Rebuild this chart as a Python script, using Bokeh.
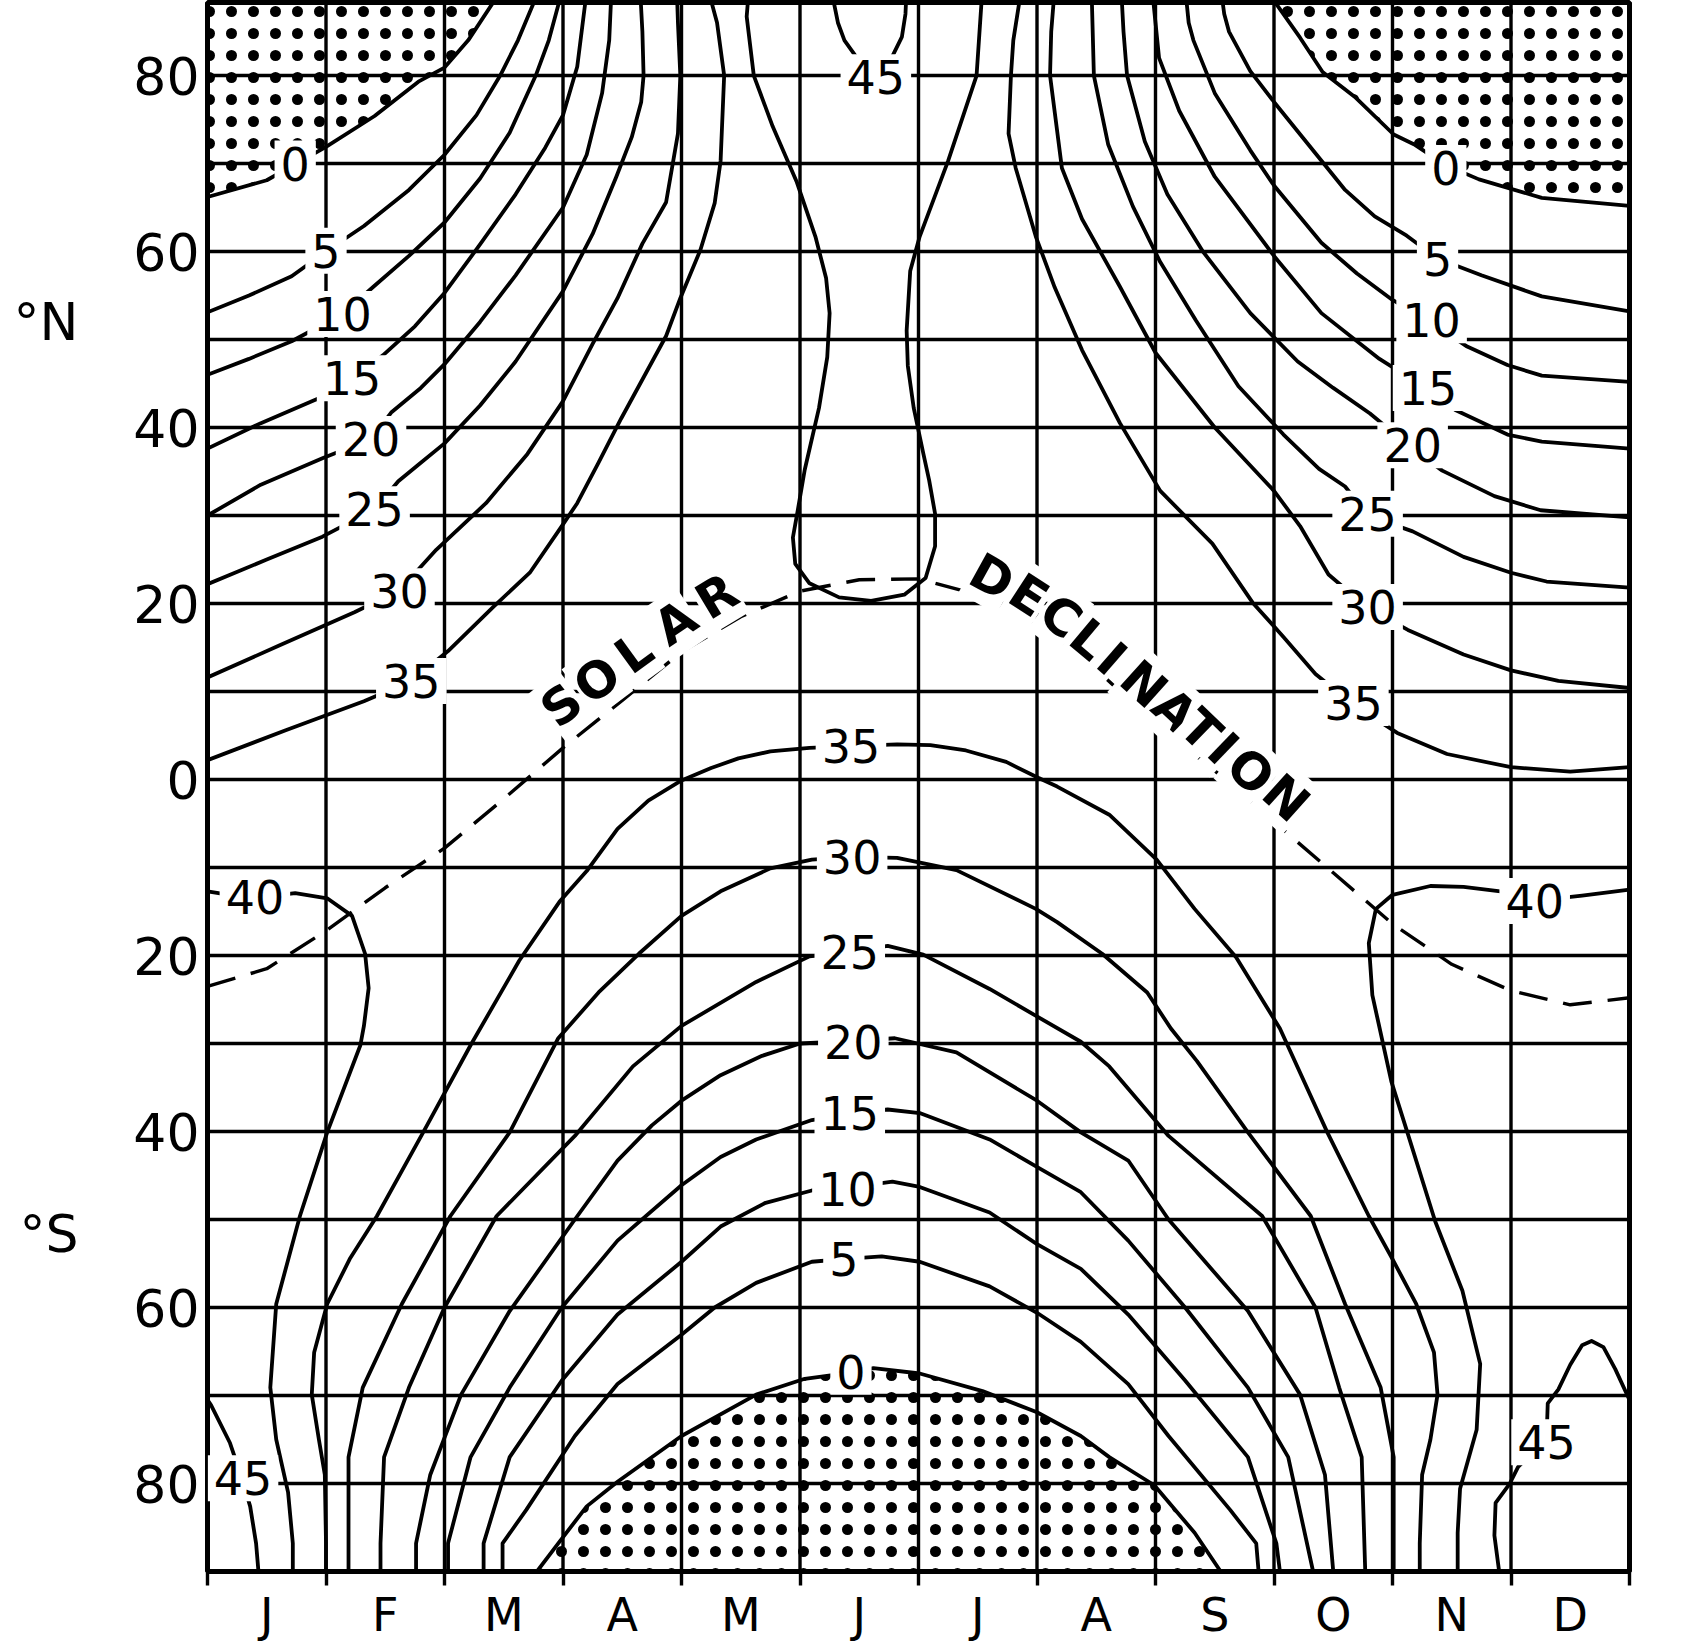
from bokeh.plotting import figure
from bokeh.models import Range1d, FixedTicker, LinearAxis
from bokeh.core.properties import value
from bokeh.embed import file_html
from bokeh.resources import INLINE

# ---------------- data (month 0..12 = Jan 1 .. Dec 31, latitude in degrees) ----------------
MONTHS = ["J", "F", "M", "A", "M", "J", "J", "A", "S", "O", "N", "D"]
LAT_TICKS = [-80, -60, -40, -20, 0, 20, 40, 60, 80]
LAT_TICK_LABELS = ["80", "60", "40", "20", "0", "20", "40", "60", "80"]
HEMI_TICKS = [52.0, -51.6]
HEMI_LABELS = ["°N", "°S"]
MONTH_BOUNDS = list(range(13))
LAT_GRID = [-80, -70, -60, -50, -40, -30, -20, -10, 0, 10, 20, 30, 40, 50, 60, 70, 80]

# solar declination (dashed)
DECL_MONTH = [0, 0.5, 1.0, 1.5, 2.0, 2.5, 3.0, 3.5, 4.0, 4.5, 5.0, 5.5, 6.0, 6.5, 7.0, 7.5,
              8.0, 8.5, 9.0, 9.5, 10.0, 10.5, 11.0, 11.5, 12.0]
DECL_LAT = [-23.5, -21.5, -17.2, -12.3, -7.8, -2.2, 3.6, 9.0, 14.5, 18.5, 21.4, 22.7, 22.8,
            21.0, 17.5, 12.5, 6.3, 1.0, -4.8, -10.6, -16.4, -21.0, -24.0, -25.6, -24.8]

# northern hemisphere, rising (Jan -> Jun) isolines
N0_LEFT = [(0, 66.2), (0.5, 68.1), (1.0, 71.9), (1.41, 75.4), (1.78, 79.3), (2.0, 80.9), (2.2, 84.0), (2.42, 88.5), (2.47, 90)]
N5_LEFT = [(0, 53.1), (0.35, 55.0), (0.71, 57.2), (1.0, 60.0), (1.32, 62.9), (1.7, 67.0), (2.0, 71.0), (2.27, 75.5), (2.47, 80.0), (2.62, 84.0), (2.76, 88.5), (2.8, 90)]
N10_LEFT = [(0, 46.0), (0.35, 47.8), (0.71, 49.8), (1.14, 52.9), (1.4, 56.0), (1.7, 59.5), (2.0, 63.3), (2.3, 68.3), (2.55, 73.5), (2.77, 80.0), (2.88, 84.0), (2.97, 88.5), (3.0, 90)]
N15_LEFT = [(0, 37.6), (0.45, 40.5), (0.92, 43.2), (1.22, 45.5), (1.48, 48.2), (1.75, 51.5), (2.0, 55.3), (2.3, 60.8), (2.6, 66.5), (2.85, 71.8), (3.0, 75.5), (3.12, 81.0), (3.19, 88.5), (3.2, 90)]
N20_LEFT = [(0, 30.0), (0.45, 33.5), (0.97, 36.5), (1.38, 38.7), (1.55, 41.7), (1.8, 44.5), (2.0, 47.2), (2.3, 52.0), (2.6, 57.3), (3.0, 65.0), (3.2, 71.0), (3.33, 78.0), (3.39, 84.0), (3.41, 90)]
N25_LEFT = [(0, 22.2), (0.5, 25.0), (0.97, 27.6), (1.41, 30.7), (1.61, 33.9), (1.8, 36.0), (2.0, 38.2), (2.3, 42.5), (2.6, 47.5), (3.0, 55.5), (3.25, 62.0), (3.45, 68.5), (3.58, 73.0), (3.66, 77.0), (3.68, 80.0), (3.67, 85.0), (3.65, 90)]
N30_LEFT = [(0, 11.6), (0.6, 15.2), (1.24, 19.0), (1.62, 21.5), (1.93, 26.1), (2.35, 31.4), (2.7, 37.0), (3.0, 43.0), (3.25, 49.5), (3.46, 54.7), (3.67, 60.9), (3.87, 65.6), (3.97, 73.4), (3.99, 80.0), (3.97, 86.0), (3.96, 90)]
N35_LEFT = [(0, 2.2), (0.66, 5.6), (1.32, 8.9), (1.72, 11.2), (2.03, 14.6), (2.41, 19.6), (2.72, 23.5), (3.0, 29.0), (3.12, 31.4), (3.3, 36.0), (3.49, 41.0), (3.7, 46.2), (3.87, 50.4), (3.99, 54.7), (4.16, 60.2), (4.28, 65.5), (4.33, 70.3), (4.36, 80.0), (4.3, 86.0), (4.22, 90)]
# 40 "teardrop" around the June maximum, and the 45 cap near the pole
N40_DROP = [(4.57, 90), (4.55, 86.7), (4.61, 80.0), (4.77, 74.2), (4.97, 68.0), (5.13, 61.7), (5.22, 57.0), (5.25, 53.0), (5.23, 48.0), (5.16, 42.2), (5.04, 35.2), (4.98, 30.5), (4.94, 27.5), (4.96, 24.5), (5.08, 22.3), (5.33, 20.7), (5.6, 20.3), (5.88, 21.0), (6.06, 22.9), (6.14, 26.5), (6.14, 30.2), (6.09, 34.0), (6.04, 37.1), (5.96, 42.2), (5.91, 47.0), (5.9, 51.0), (5.93, 57.8), (6.01, 61.7), (6.25, 70.3), (6.49, 80.0), (6.54, 90)]
N45_CAP = [(5.26, 90), (5.32, 86.0), (5.375, 84.0), (5.47, 82.2), (5.56, 80.4), (5.64, 80.0), (5.72, 80.4), (5.78, 82.2), (5.86, 84.4), (5.89, 87.0), (5.9, 90)]
# northern hemisphere, falling (Jul -> Dec) isolines
N35_RIGHT = [(6.87, 90), (6.8, 84.0), (6.78, 80.0), (6.76, 73.4), (6.82, 69.5), (6.99, 61.7), (7.15, 55.9), (7.38, 48.8), (7.7, 40.5), (8.04, 32.8), (8.48, 26.8), (8.82, 20.1), (9.08, 16.2), (9.35, 12.0), (9.66, 8.6), (10.04, 5.3), (10.46, 2.9), (11.0, 1.4), (11.5, 0.9), (12.0, 1.4)]
N30_RIGHT = [(7.15, 90), (7.12, 85.0), (7.11, 80.0), (7.21, 69.5), (7.38, 63.7), (7.7, 56.0), (8.0, 48.5), (8.5, 40.0), (9.0, 32.8), (9.22, 28.8), (9.46, 23.3), (9.79, 19.5), (10.13, 17.0), (10.6, 14.2), (11.0, 12.4), (11.4, 11.2), (12.0, 10.4)]
N25_RIGHT = [(7.46, 90), (7.47, 85.0), (7.48, 80.0), (7.6, 72.2), (7.81, 65.1), (8.04, 58.8), (8.34, 52.2), (8.7, 44.7), (9.08, 39.2), (9.38, 35.3), (9.6, 33.3), (9.79, 30.0), (10.17, 28.2), (10.6, 25.3), (11.0, 23.5), (11.3, 22.5), (12.0, 21.8)]
N20_RIGHT = [(7.71, 90), (7.73, 85.0), (7.76, 80.0), (7.91, 72.5), (8.1, 66.5), (8.4, 60.0), (8.8, 53.0), (9.2, 47.5), (9.5, 44.5), (9.81, 41.6), (10.15, 37.8), (10.42, 35.1), (10.86, 32.2), (11.25, 30.6), (12.0, 29.8)]
N15_RIGHT = [(7.97, 90), (8.0, 86.0), (8.03, 82.0), (8.2, 76.0), (8.5, 68.5), (9.0, 59.5), (9.4, 53.0), (9.89, 47.8), (10.3, 44.3), (10.53, 42.0), (10.97, 39.2), (11.26, 38.4), (12.0, 37.6)]
N10_RIGHT = [(8.25, 90), (8.28, 86.0), (8.32, 84.0), (8.5, 78.0), (8.8, 71.5), (9.0, 67.5), (9.4, 61.0), (9.7, 57.5), (10.0, 54.5), (10.32, 52.0), (10.63, 49.2), (10.97, 47.1), (11.26, 45.9), (12.0, 45.2)]
N5_RIGHT = [(8.55, 90), (8.58, 87.0), (8.62, 85.0), (8.8, 80.5), (9.0, 77.0), (9.3, 72.0), (9.6, 67.0), (9.85, 64.0), (10.12, 61.8), (10.38, 59.2), (10.75, 57.3), (11.26, 54.9), (12.0, 53.2)]
N0_RIGHT = [(8.96, 90), (9.0, 88.5), (9.22, 84.3), (9.41, 80.4), (9.68, 77.6), (10.01, 73.3), (10.18, 72.2), (10.45, 69.8), (10.73, 68.2), (11.26, 66.1), (12.0, 65.2)]
# southern hemisphere
S35 = [(1.0, -90), (1.0, -86.8), (0.99, -79.0), (0.94, -75.0), (0.88, -69.9), (0.9, -65.1), (1.01, -59.6), (1.2, -54.5), (1.43, -49.6), (1.82, -40.1), (2.22, -30.2), (2.63, -20.6), (2.97, -13.9), (3.2, -10.4), (3.46, -5.6), (3.72, -2.4), (4.0, -0.1), (4.25, 1.3), (4.48, 2.4), (4.75, 3.2), (5.08, 3.6), (5.43, 3.8), (5.82, 4.0), (6.1, 3.9), (6.4, 3.3), (6.74, 2.0), (7.01, 0.2), (7.17, -0.8), (7.61, -4.0), (8.01, -9.1), (8.33, -14.7), (8.68, -20.2), (9.05, -28.3), (9.45, -40.1), (9.8, -49.6), (10.0, -54.5), (10.2, -59.6), (10.35, -65.1), (10.38, -69.9), (10.32, -75.0), (10.25, -79.0), (10.23, -86.8), (10.23, -90)]
S30 = [(1.19, -90), (1.19, -86.8), (1.19, -77.0), (1.31, -69.1), (1.64, -59.6), (2.05, -49.6), (2.55, -40.1), (2.96, -29.4), (3.3, -24.2), (3.64, -19.8), (4.0, -15.5), (4.33, -12.7), (4.75, -10.1), (5.1, -9.1), (5.44, -8.8), (5.82, -8.9), (6.32, -10.3), (6.99, -14.7), (7.17, -16.2), (7.55, -19.8), (7.93, -24.2), (8.13, -28.3), (8.35, -32.0), (8.78, -40.1), (9.31, -49.6), (9.6, -59.6), (9.9, -69.1), (10.01, -77.0), (10.01, -90)]
S25 = [(1.46, -90), (1.46, -86.8), (1.49, -77.0), (1.7, -69.1), (2.0, -60.0), (2.44, -49.6), (3.1, -40.5), (3.59, -32.6), (4.0, -28.0), (4.63, -23.0), (5.08, -20.1), (5.42, -19.6), (5.74, -18.9), (6.04, -19.9), (6.6, -23.8), (7.01, -27.0), (7.37, -29.8), (7.61, -32.6), (8.11, -40.5), (8.9, -49.6), (9.35, -60.0), (9.55, -69.1), (9.74, -77.0), (9.77, -90)]
S20 = [(1.76, -90), (1.76, -86.8), (1.88, -79.0), (2.14, -69.9), (2.55, -60.4), (3.1, -50.0), (3.46, -43.3), (3.75, -39.3), (4.0, -36.5), (4.33, -33.6), (4.68, -31.4), (5.0, -30.0), (5.45, -29.7), (5.8, -29.4), (6.32, -31.0), (7.0, -36.5), (7.37, -40.1), (7.77, -43.3), (8.11, -50.0), (8.78, -60.4), (9.22, -69.9), (9.43, -79.0), (9.5, -90)]
S15 = [(2.03, -90), (2.03, -86.8), (2.22, -77.0), (2.55, -69.1), (2.99, -60.0), (3.46, -52.4), (4.0, -46.1), (4.33, -42.9), (4.63, -40.9), (5.1, -38.7), (5.42, -38.0), (5.74, -37.5), (6.01, -37.9), (6.6, -40.9), (7.01, -44.1), (7.37, -46.9), (7.77, -52.4), (8.25, -60.0), (8.78, -69.1), (9.12, -77.0), (9.33, -90)]
S10 = [(2.33, -90), (2.33, -86.8), (2.55, -77.0), (2.99, -68.3), (3.46, -60.8), (4.0, -54.8), (4.33, -50.8), (4.71, -48.1), (5.1, -46.7), (5.4, -46.4), (5.78, -45.7), (6.01, -46.3), (6.6, -49.2), (7.0, -52.8), (7.37, -55.6), (7.77, -60.8), (8.25, -68.3), (8.78, -77.0), (9.02, -86.8), (9.05, -90)]
S5 = [(2.49, -90), (2.49, -86.8), (2.69, -83.0), (3.1, -74.6), (3.46, -68.7), (4.0, -63.1), (4.28, -60.0), (4.63, -57.2), (5.1, -54.8), (5.36, -54.5), (5.69, -54.2), (6.01, -54.8), (6.6, -57.6), (7.0, -60.6), (7.37, -63.9), (7.77, -68.7), (8.11, -74.6), (8.63, -83.0), (8.85, -86.8), (8.87, -90)]
S0 = [(2.78, -90), (2.96, -86.8), (3.2, -82.6), (3.46, -79.8), (4.0, -74.6), (4.63, -69.9), (5.04, -68.1), (5.43, -67.4), (5.62, -66.9), (6.01, -67.5), (6.54, -69.5), (7.0, -71.9), (7.37, -74.6), (7.61, -77.0), (7.99, -80.2), (8.33, -85.6), (8.55, -90)]
S40_LEFT = [(0, -12.7), (0.37, -13.5), (0.74, -12.9), (1.01, -13.5), (1.22, -15.5), (1.33, -19.8), (1.36, -23.7), (1.32, -28.0), (1.29, -30.2), (1.01, -40.1), (0.78, -49.6), (0.58, -59.6), (0.53, -69.1), (0.58, -75.0), (0.68, -81.0), (0.72, -86.8), (0.72, -90)]
S40_RIGHT = [(12.0, -12.5), (11.6, -13.2), (11.2, -13.8), (10.91, -12.7), (10.6, -12.2), (10.32, -12.1), (10.0, -13.1), (9.86, -14.7), (9.8, -18.6), (9.83, -24.5), (9.99, -34.3), (10.13, -40.3), (10.36, -50.2), (10.59, -58.1), (10.74, -66.4), (10.71, -73.9), (10.57, -80.6), (10.55, -85.6), (10.55, -90)]
S45_LEFT = [(0, -70.5), (0.03, -71.1), (0.19, -75.4), (0.29, -79.4), (0.36, -82.6), (0.41, -86.8), (0.43, -90)]
S45_RIGHT = [(10.9, -90), (10.86, -85.9), (10.87, -82.2), (10.99, -80.0), (11.06, -78.1), (11.3, -75.0), (11.31, -70.9), (11.4, -69.3), (11.5, -66.5), (11.6, -64.3), (11.68, -63.8), (11.78, -64.5), (11.88, -67.0), (12.0, -70.5)]

# contour value labels
LABEL_TEXT = ["0", "5", "10", "15", "20", "25", "30", "35", "45",
              "0", "5", "10", "15", "20", "25", "30", "35",
              "35", "30", "25", "20", "15", "10", "5", "0",
              "40", "40", "45", "45"]
LABEL_MONTH = [0.74, 1.0, 1.14, 1.22, 1.38, 1.41, 1.62, 1.72, 5.64,
               10.45, 10.38, 10.33, 10.3, 10.17, 9.79, 9.79, 9.67,
               5.43, 5.44, 5.42, 5.45, 5.42, 5.4, 5.37, 5.43,
               0.4, 11.2, 0.3, 11.3]
LABEL_LAT = [70.0, 60.1, 52.9, 45.6, 38.7, 30.7, 21.4, 11.2, 79.8,
             69.5, 59.2, 52.2, 44.5, 38.0, 30.2, 19.6, 8.7,
             3.8, -8.8, -19.6, -29.8, -37.9, -46.5, -54.5, -67.3,
             -13.3, -13.8, -79.4, -75.3]

CONTOURS = [N0_LEFT, N5_LEFT, N10_LEFT, N15_LEFT, N20_LEFT, N25_LEFT, N30_LEFT, N35_LEFT,
            N40_DROP, N45_CAP, N35_RIGHT, N30_RIGHT, N25_RIGHT, N20_RIGHT, N15_RIGHT,
            N10_RIGHT, N5_RIGHT, N0_RIGHT, S35, S30, S25, S20, S15, S10, S5, S0,
            S40_LEFT, S40_RIGHT, S45_LEFT, S45_RIGHT]

# ---------------- figure ----------------
FONT = value("DejaVu Sans")

p = figure(width=1667, height=1644, x_range=Range1d(0, 12), y_range=Range1d(-90, 88.3),
           output_backend="svg", toolbar_location=None,
           min_border_left=207, min_border_right=38, min_border_top=2, min_border_bottom=72)
p.xgrid.visible = False
p.ygrid.visible = False
p.outline_line_color = "black"
p.outline_line_width = 5
p.background_fill_color = "white"
p.border_fill_color = "white"


def poly(pts, extra):
    allp = pts + extra
    return [a for a, b in allp], [b for a, b in allp]


# stippled zero-insolation areas
for xs, ys in [poly(N0_LEFT, [(0, 90)]), poly(N0_RIGHT, [(12, 90)]), poly(S0, [])]:
    p.patch(xs, ys, fill_color=None, line_color=None, hatch_pattern="dot",
            hatch_color="black", hatch_scale=22, hatch_weight=8)

# grid
p.segment(x0=MONTH_BOUNDS[1:-1], y0=[-90] * 11, x1=MONTH_BOUNDS[1:-1], y1=[90] * 11,
          line_color="black", line_width=3.4)
p.segment(x0=[0] * len(LAT_GRID), y0=LAT_GRID, x1=[12] * len(LAT_GRID), y1=LAT_GRID,
          line_color="black", line_width=3.4)

# isolines
p.multi_line(xs=[[a for a, b in c] for c in CONTOURS], ys=[[b for a, b in c] for c in CONTOURS],
             line_color="black", line_width=3.8, line_join="round")

# declination
p.line(DECL_MONTH, DECL_LAT, line_color="black", line_width=3.4, line_dash="29 16")

# contour labels with white gaps
p.text(x=LABEL_MONTH, y=LABEL_LAT, text=LABEL_TEXT, text_font=FONT, text_font_size="46px",
       text_align="center", text_baseline="middle", text_color="black",
       background_fill_color="white", padding=6)

# "SOLAR DECLINATION" along the curve
letters = list("SOLAR") + list("DECLINATION")
lx = [2.99, 3.29, 3.6, 3.95, 4.3, 6.62, 6.93, 7.2, 7.44, 7.63, 7.9, 8.16, 8.38, 8.57, 8.8, 9.1]
ly = [8.4, 11.3, 14.4, 17.8, 20.8, 23.0, 20.9, 18.5, 15.9, 13.7, 10.8, 7.8, 5.6, 3.5, 0.9, -2.1]
la = [38, 37, 36, 34, 31, -29, -33, -37, -40, -41, -42, -43, -44, -44, -43, -42]
p.text(x=lx, y=ly, text=letters, angle=la, angle_units="deg", text_font=FONT,
       text_font_size="50px", text_font_style="bold", text_align="center",
       text_baseline="middle", text_color="black", background_fill_color="white", padding=1)

# bottom axis: month boundaries as ticks, letters centred in each month
p.xaxis.ticker = FixedTicker(ticks=[i + 0.5 for i in range(12)], minor_ticks=MONTH_BOUNDS)
p.xaxis.major_label_overrides = {i + 0.5: MONTHS[i] for i in range(12)}
p.xaxis.axis_line_width = 5
p.xaxis.major_tick_line_color = None
p.xaxis.major_tick_out = 0
p.xaxis.major_tick_in = 0
p.xaxis.minor_tick_out = 14
p.xaxis.minor_tick_in = 0
p.xaxis.minor_tick_line_width = 3.4
p.xaxis.major_label_standoff = 2
p.xaxis.axis_label_standoff = 0
p.xaxis.major_label_text_font = "DejaVu Sans"
p.xaxis.major_label_text_font_size = "46px"
p.xaxis.major_label_text_color = "black"

p.yaxis.ticker = FixedTicker(ticks=LAT_TICKS, minor_ticks=[])
p.yaxis.major_label_overrides = {t: s for t, s in zip(LAT_TICKS, LAT_TICK_LABELS)}
p.yaxis.axis_line_color = None
p.yaxis.major_tick_line_color = None
p.yaxis.minor_tick_line_color = None
p.yaxis.major_tick_out = 0
p.yaxis.major_tick_in = 0
p.yaxis.minor_tick_out = 0
p.yaxis.minor_tick_in = 0
p.yaxis.axis_label_standoff = 0
p.yaxis.major_label_standoff = 8
p.yaxis.major_label_text_font = "DejaVu Sans"
p.yaxis.major_label_text_font_size = "52px"
p.yaxis.major_label_text_color = "black"

hemi = LinearAxis(ticker=FixedTicker(ticks=HEMI_TICKS, minor_ticks=[]),
                  major_label_overrides={t: s for t, s in zip(HEMI_TICKS, HEMI_LABELS)},
                  axis_line_color=None, major_tick_line_color=None, minor_tick_line_color=None,
                  major_tick_out=0, major_tick_in=0, minor_tick_out=0, minor_tick_in=0,
                  axis_label_standoff=0, major_label_standoff=52,
                  major_label_text_font="DejaVu Sans", major_label_text_font_size="52px",
                  major_label_text_color="black")
p.add_layout(hemi, "left")

open("out.html", "w").write(file_html(p, INLINE))
